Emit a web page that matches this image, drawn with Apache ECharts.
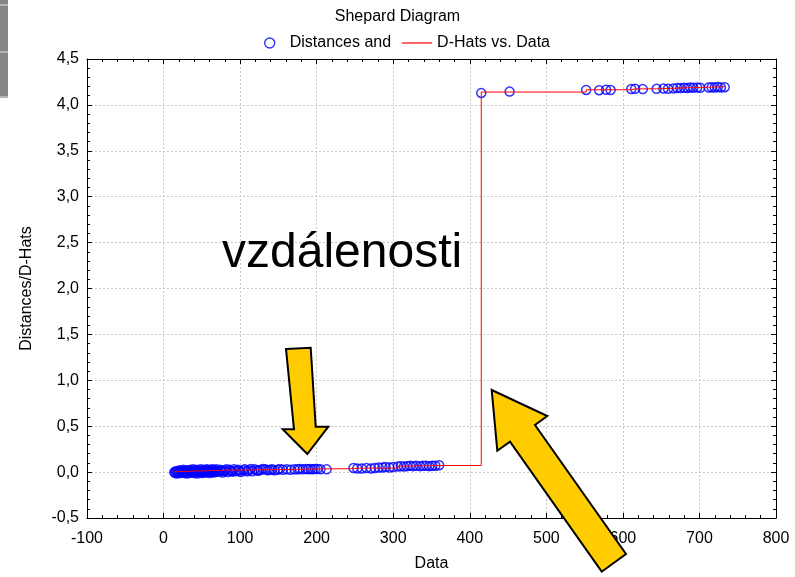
<!DOCTYPE html>
<html>
<head>
<meta charset="utf-8">
<script src="https://cdn.jsdelivr.net/npm/echarts@6/dist/echarts.min.js"></script>
<style>
html,body{margin:0;padding:0;background:#fff;}
#chart{width:795px;height:577px;}
</style>
</head>
<body>
<div id="chart"></div>
<script>
// ---- data ----
const dataX = [
  14,15,16,17,18,19,20,21,22,23,24,25,26,27,28,29,30,31,32,33,34,35,36,37,38,39,40,41,42,43,
  44,45,46,47,48,49,50,51,52,53,54,55,56,57,58,59,60,61,62,63,64,65,66,67,68,69,70,
  72,74,75,77,79,80,82,84,86,88,90,92,94,97,99,101,104,106,109,111,114,116,119,122,124,127,130,
  133,136,139,142,145,149,152,156,
  161,166,171,175,178,182,186,189,192,195,198,201,205,213,
  248,253,259,265,271,276,281,286,290,295,300,306,310,314,318,322,326,330,335,339,343,347,351,355,360,
  415,452,552,569,578,584,611,616,626,644,653,659,666,671,675,680,684,688,692,697,701,712,716,720,724,728,733
];
const distances = [
  0.000,-0.010,0.010,0.005,-0.015,0.015,0.000,-0.005,0.020,0.005,-0.010,0.010,0.025,-0.005,0.000,0.015,-0.015,0.020,0.005,-0.010,
  0.010,0.025,0.000,-0.005,0.015,0.030,-0.010,0.005,0.020,0.010,-0.015,0.025,0.000,0.015,-0.005,0.030,0.010,-0.010,0.020,0.005,
  0.025,-0.005,0.015,0.030,0.000,0.020,-0.010,0.010,0.025,0.005,0.030,-0.005,0.015,0.020,0.000,0.030,0.010,
  0.005,0.025,0.015,-0.005,0.020,0.010,0.030,0.000,0.025,0.015,0.005,0.030,0.010,0.025,0.015,0.000,0.020,0.030,0.010,0.020,
  0.035,0.010,0.030,0.020,0.015,0.025,0.035,0.030,0.020,0.025,0.030,0.020,0.025,0.035,0.025,
  0.030,0.025,0.030,0.030,0.035,0.030,0.035,0.030,0.035,0.030,0.035,0.035,0.030,0.030,
  0.045,0.040,0.040,0.045,0.040,0.045,0.050,0.050,0.055,0.050,0.055,0.060,0.065,0.060,0.065,0.070,0.065,0.070,0.065,0.070,
  0.070,0.065,0.070,0.070,0.075,
  4.130,4.145,4.163,4.160,4.165,4.162,4.173,4.175,4.172,4.175,4.178,4.176,4.180,4.185,4.183,4.187,4.185,4.190,4.188,4.190,
  4.186,4.190,4.192,4.190,4.195,4.190,4.193
];
const dHats = [
  0.005,0.005,0.005,0.005,0.006,0.006,0.006,0.006,0.007,0.007,0.007,0.007,0.008,0.008,0.008,0.008,0.009,0.009,0.009,0.009,
  0.010,0.010,0.010,0.010,0.011,0.011,0.011,0.011,0.012,0.012,0.012,0.012,0.013,0.013,0.013,0.013,0.014,0.014,0.014,0.014,
  0.015,0.015,0.015,0.015,0.016,0.016,0.016,0.016,0.017,0.017,0.017,0.017,0.018,0.018,0.018,0.018,0.018,
  0.019,0.019,0.020,0.020,0.020,0.021,0.021,0.021,0.021,0.021,0.022,0.022,0.022,0.022,0.022,0.024,0.024,0.024,0.024,0.024,
  0.025,0.025,0.025,0.025,0.025,0.027,0.027,0.027,0.027,0.027,0.028,0.028,0.028,0.028,0.028,
  0.029,0.030,0.030,0.031,0.031,0.032,0.032,0.033,0.033,0.034,0.034,0.035,0.035,0.037,
  0.043,0.043,0.043,0.043,0.043,0.043,0.043,0.043,0.043,0.043,0.043,0.065,0.065,0.065,0.065,0.068,0.068,0.068,0.068,0.070,
  0.070,0.070,0.072,0.072,0.072,
  4.140,4.140,4.165,4.165,4.165,4.165,4.175,4.175,4.175,4.178,4.180,4.180,4.183,4.185,4.185,4.188,4.188,4.190,4.190,4.190,
  4.192,4.195,4.195,4.195,4.197,4.197,4.200
];
const xTicks = {min: -100, max: 800, interval: 100};
const yTicks = {min: -0.5, max: 4.5, interval: 0.5};
const titleText = 'Shepard Diagram';
const seriesNames = ['Distances and', 'D-Hats vs. Data'];
const annotation = 'vzdálenosti';

// ---- build ----
const FONT = 'Liberation Sans, Arial, sans-serif';
const FS = 16;
const pointData = dataX.map((x, i) => [x, distances[i]]);
const lineData = dataX.map((x, i) => [x, dHats[i]]);
const fmtY = v => v.toFixed(1).replace('.', ',');
const frame = {show: true, onZero: false, lineStyle: {color: '#000', width: 1}};

const baseX = {
  type: 'value', min: xTicks.min, max: xTicks.max, interval: xTicks.interval,
  axisLine: frame,
  axisTick: {show: true, inside: true, length: 5, lineStyle: {color: '#000'}},
  minorTick: {show: true, splitNumber: 5, length: 3, lineStyle: {color: '#000'}},
  splitLine: {show: false}
};
const baseY = {
  type: 'value', min: yTicks.min, max: yTicks.max, interval: yTicks.interval,
  axisLine: frame,
  axisTick: {show: true, inside: true, length: 5, lineStyle: {color: '#000'}},
  minorTick: {show: true, splitNumber: 5, length: 3, lineStyle: {color: '#000'}},
  splitLine: {show: false}
};

const chart = echarts.init(document.getElementById('chart'), null, {renderer: 'canvas'});
chart.setOption({
  backgroundColor: '#fff',
  animation: false,
  title: {
    text: titleText, left: 'center', top: 4,
    textStyle: {fontFamily: FONT, fontSize: FS, fontWeight: 'normal', color: '#000'}
  },
  legend: {
    left: 259, top: 30, itemWidth: 30, itemHeight: 10, itemGap: 11,
    symbolKeepAspect: true,
    textStyle: {fontFamily: FONT, fontSize: FS, color: '#000'},
    data: [
      {name: seriesNames[0], icon: 'circle', itemStyle: {color: 'transparent', borderColor: '#0000ff', borderWidth: 1.4}},
      {name: seriesNames[1], icon: 'path://M0,0L30,0L30,1.2L0,1.2Z', itemStyle: {color: '#ff0000', borderWidth: 0}}
    ]
  },
  grid: {left: 87, right: 19, top: 59, bottom: 58},
  xAxis: [
    Object.assign({}, baseX, {
      position: 'bottom',
      name: 'Data', nameLocation: 'middle', nameGap: 38,
      nameTextStyle: {fontFamily: FONT, fontSize: FS, color: '#000'},
      axisLabel: {fontFamily: FONT, fontSize: FS, color: '#000', margin: 13},
      splitLine: {show: true, lineStyle: {color: '#c8c8c8', type: [2, 2], width: 1}}
    }),
    Object.assign({}, baseX, {position: 'top', axisLabel: {show: false}})
  ],
  yAxis: [
    Object.assign({}, baseY, {
      position: 'left',
      name: 'Distances/D-Hats', nameLocation: 'middle', nameGap: 52,
      nameTextStyle: {fontFamily: FONT, fontSize: FS, color: '#000'},
      axisLabel: {fontFamily: FONT, fontSize: FS, color: '#000', margin: 8, formatter: fmtY},
      splitLine: {show: true, lineStyle: {color: '#c8c8c8', type: [2, 2], width: 1}}
    }),
    Object.assign({}, baseY, {position: 'right', axisLabel: {show: false}})
  ],
  series: [
    {
      name: seriesNames[0], type: 'scatter', data: pointData,
      symbol: 'circle', symbolSize: 9,
      itemStyle: {color: 'transparent', borderColor: '#0000ff', borderWidth: 1.5},
      z: 3
    },
    {
      name: seriesNames[1], type: 'line', data: lineData, step: 'end',
      showSymbol: false, symbol: 'none',
      lineStyle: {color: '#ff0000', width: 1},
      itemStyle: {color: '#ff0000'},
      z: 4
    }
  ],
  graphic: [
    {type: 'rect', shape: {x: 0, y: 0, width: 8, height: 98}, style: {fill: '#868686'}, z: 100},
    {type: 'rect', shape: {x: 0, y: 4, width: 8, height: 2}, style: {fill: '#b5b5b5'}, z: 101},
    {type: 'rect', shape: {x: 0, y: 51, width: 8, height: 2}, style: {fill: '#b5b5b5'}, z: 101},
    {type: 'rect', shape: {x: 0, y: 96, width: 8, height: 2}, style: {fill: '#b5b5b5'}, z: 101},
    {type: 'text', x: 222, y: 278, z: 100,
      style: {text: annotation, fontFamily: FONT, fontSize: 48, fill: '#000', textVerticalAlign: 'bottom', verticalAlign: 'bottom'}},
    {type: 'polygon', z: 100,
      shape: {points: [[286, 349], [310.7, 347.7], [315.7, 426.7], [328.3, 426.7], [307.3, 454], [282.7, 429.3], [294, 429.3]]},
      style: {fill: '#ffcc00', stroke: '#000', lineWidth: 2, lineJoin: 'miter'}},
    {type: 'polygon', z: 100,
      shape: {points: [[491.7, 390], [547.3, 416], [535, 425], [626, 554], [601.7, 571.7], [510, 441.7], [497.3, 450.7]]},
      style: {fill: '#ffcc00', stroke: '#000', lineWidth: 2, lineJoin: 'miter'}}
  ]
});
</script>
</body>
</html>
